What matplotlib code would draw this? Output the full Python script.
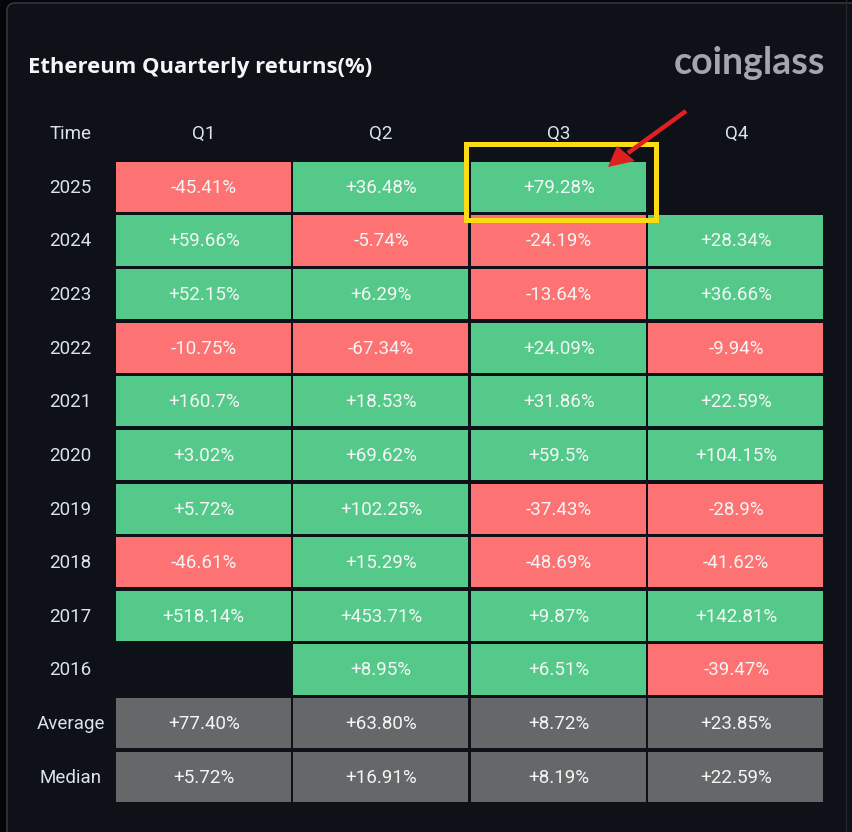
import numpy as np
import matplotlib
matplotlib.use("Agg")
import matplotlib.pyplot as plt
from matplotlib.patches import Rectangle, FancyBboxPatch, Polygon

quarters = ["Q1", "Q2", "Q3", "Q4"]
rows = ["2025", "2024", "2023", "2022", "2021", "2020", "2019", "2018", "2017", "2016", "Average", "Median"]
q1 = [-45.41, 59.66, 52.15, -10.75, 160.7, 3.02, 5.72, -46.61, 518.14, None, 77.40, 5.72]
q2 = [36.48, -5.74, 6.29, -67.34, 18.53, 69.62, 102.25, 15.29, 453.71, 8.95, 63.80, 16.91]
q3 = [79.28, -24.19, -13.64, 24.09, 31.86, 59.5, -37.43, -48.69, 9.87, 6.51, 8.72, 8.19]
q4 = [None, 28.34, 36.66, -9.94, 22.59, 104.15, -28.9, -41.62, 142.81, -39.47, 23.85, 22.59]
summary_rows = ["Average", "Median"]
title = "Ethereum Quarterly returns(%)"
brand = "coinglass"

GREEN, RED, GREY = "#54C98A", "#FD7272", "#666769"
PANEL, OUTER = "#0E1117", "#05060A"
FONT = ["Roboto", "DejaVu Sans"]
SIZE = 13.5

W, H = 852, 832
fig = plt.figure(figsize=(W / 100, H / 100), dpi=100, facecolor=OUTER)

# Pixel-space backdrop for the card, title and logo
bg = fig.add_axes([0, 0, 1, 1], zorder=0)
bg.set_xlim(0, W); bg.set_ylim(H, 0); bg.axis("off")
bg.add_patch(FancyBboxPatch((7, 3), 900, 900, boxstyle="round,pad=0,rounding_size=8",
                            fc=PANEL, ec="#3A3D44", lw=1))
bg.plot([846, 846], [0, H], color="#24262C", lw=1)
bg.text(28, 68, title, color="#F4F6F8", fontsize=15.85, fontweight="bold",
        family=["Open Sans", "DejaVu Sans"], va="center", ha="left")
bg.text(825, 63, brand, color="#A3A6AF", fontsize=27, fontweight="bold",
        family=["Lato", "DejaVu Sans"], va="center", ha="right")

# Table axes: one unit per cell
left, right, top, bottom = 115, 825, 161, 804.5
ax = fig.add_axes([left / W, 1 - bottom / H, (right - left) / W, (bottom - top) / H], zorder=1)
ax.set_xlim(0, 4); ax.set_ylim(len(rows), 0); ax.axis("off")

for c, series in enumerate([q1, q2, q3, q4]):
    for r, (name, v) in enumerate(zip(rows, series)):
        if v is None:
            continue
        color = GREY if name in summary_rows else (GREEN if v >= 0 else RED)
        ax.add_patch(Rectangle((c + 0.005, r + 0.015), 0.985, 0.935, fc=color, ec="none"))
        if name in summary_rows:
            label = f"{v:+.2f}%"
        else:
            label = f"{v:+.2f}".rstrip("0") + "%"
        ax.text(c + 0.5, r + 0.5, label, color="#F3F6F5", fontsize=SIZE, family=FONT,
                ha="center", va="center")

for c, q in enumerate(quarters):
    ax.text(c + 0.5, -0.5, q, color="#DCE3EA", fontsize=SIZE, family=FONT,
            ha="center", va="center", clip_on=False)
ax.text(-0.25, -0.5, "Time", color="#DCE3EA", fontsize=SIZE, family=FONT,
        ha="center", va="center", clip_on=False)
for r, name in enumerate(rows):
    ax.text(-0.25, r + 0.5, name, color="#DCE3EA", fontsize=SIZE, family=FONT,
            ha="center", va="center", clip_on=False)

# Annotation overlay in pixels
ov = fig.add_axes([0, 0, 1, 1], zorder=2)
ov.set_xlim(0, W); ov.set_ylim(H, 0); ov.axis("off"); ov.patch.set_alpha(0)
ov.add_patch(Rectangle((465.5, 143.5), 190, 76, fc="none", ec="#FADB14", lw=3.6, joinstyle="miter"))
ov.plot([686, 628], [111, 153], color="#E02020", lw=3.2, solid_capstyle="butt")
ov.add_patch(Polygon([[608, 167], [617, 146], [635, 161]], closed=True, fc="#E02020", ec="none"))

fig.savefig("out.png", dpi=100, facecolor=fig.get_facecolor())
